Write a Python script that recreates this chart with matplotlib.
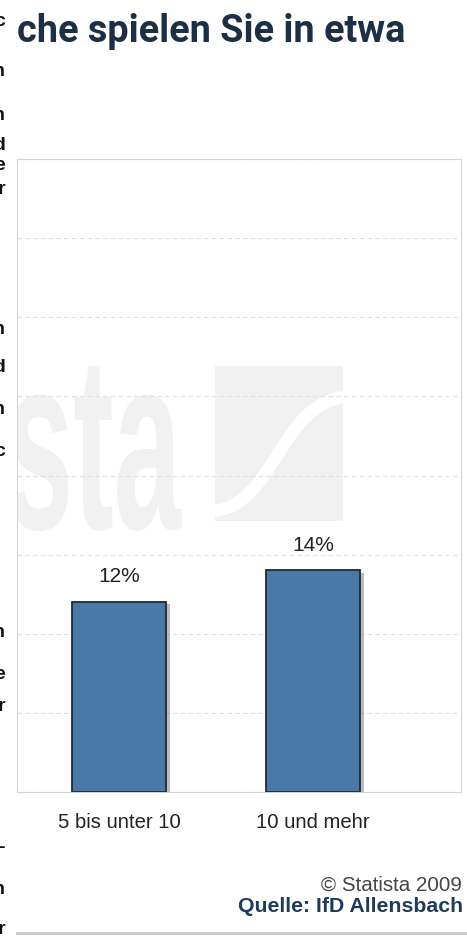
import matplotlib
matplotlib.use("Agg")
import matplotlib.pyplot as plt
import matplotlib.patheffects as pe
from matplotlib import font_manager
from matplotlib.font_manager import FontProperties
from matplotlib.textpath import TextPath
from matplotlib.patches import PathPatch, Rectangle
from matplotlib.path import Path
from matplotlib.lines import Line2D
from matplotlib.transforms import Affine2D
import numpy as np

# data
categories = ["5 bis unter 10", "10 und mehr"]
shares = [12, 14]
bar_labels = ["12%", "14%"]
title = "che spielen Sie in etwa"
copyright_note = "\u00a9 Statista 2009"
source_note = "Quelle: IfD Allensbach"
# cut-off letters of the neighbouring text at the left edge
edge_chars = ["c", "n", "n", "d", "e", "r", "n", "d", "n", "c", "n", "e", "r", "-", "n", "r"]
edge_rows = [22, 72, 115, 145, 165, 190, 330, 368, 410, 452, 633, 675, 707, 848, 890, 930]


def pick(*names):
    avail = {f.name for f in font_manager.fontManager.ttflist}
    for n in names:
        if n in avail:
            return n
    return "DejaVu Sans"


narrow = pick("Liberation Sans Narrow", "Liberation Sans")
head = pick("Roboto", "Liberation Sans")

W, H = 467, 937
fig = plt.figure(figsize=(W / 100, H / 100), dpi=100)
fig.patch.set_facecolor("white")


def fx(px):
    return px / W


def fy(py):
    return 1 - py / H


def fit(txt, width_px):
    # scale the font so the text covers the measured width
    r = fig.canvas.get_renderer()
    w = txt.get_window_extent(renderer=r).width
    txt.set_fontsize(txt.get_fontsize() * width_px / w)


ax = fig.add_axes([fx(17), fy(793), fx(461) - fx(17), fy(160) - fy(793)])
ax.set_facecolor("none")

x = np.arange(len(categories))
bars = ax.bar(x, shares, width=0.485, color="#4a79a7", edgecolor="#1d2b3a",
              linewidth=1.3, zorder=3)
for b in bars:
    b.set_path_effects([pe.SimplePatchShadow(offset=(3, -1.5), shadow_rgbFace="#555555",
                                             alpha=0.4), pe.Normal()])
ax.set_xlim(-0.526, 1.763)
ax.set_ylim(0, 40)
ax.set_yticks(np.arange(0, 41, 5))
ax.yaxis.grid(True, color="#e0e0e0", linestyle=(0, (4, 3)), linewidth=0.8, zorder=0)
ax.tick_params(axis="y", left=False, labelleft=False)
ax.set_xticks(x, categories)
ax.tick_params(axis="x", bottom=False, pad=11, labelsize=15, labelcolor="#222222")
for lab in ax.get_xticklabels():
    lab.set_fontfamily(narrow)
for s in ax.spines.values():
    s.set_color("#d4d4d4")
fit(ax.get_xticklabels()[0], 123)
for lab in ax.get_xticklabels()[1:]:
    lab.set_fontsize(ax.get_xticklabels()[0].get_fontsize())

for xi, v, t in zip(x, shares, bar_labels):
    ax.annotate(t, (xi, v), xytext=(0, 12), textcoords="offset points", ha="center",
                va="bottom", fontsize=15, family=narrow, color="#222222")

# watermark: "sta" plus logo square
tp = TextPath((0, 0), "sta", size=100, prop=FontProperties(family="Liberation Sans", weight="bold"))
ext = tp.get_extents()
tr = (Affine2D().translate(-ext.x0, -ext.y0)
      .scale((fx(182) - fx(10)) / ext.width, (fy(367) - fy(532)) / ext.height)
      .translate(fx(10), fy(532)) + fig.transFigure)
wm = PathPatch(tp, transform=tr, facecolor="#f1f1f1", edgecolor="none", zorder=-2)
fig.add_artist(wm)
wm.set_clip_path(ax.patch)

fig.add_artist(Rectangle((fx(215), fy(522)), fx(343) - fx(215), fy(367) - fy(522),
                         transform=fig.transFigure, facecolor="#f1f1f1",
                         edgecolor="none", zorder=-2))
pts = [(214, 512), (275, 505), (280, 405), (345, 398)]
curve = Path([(fx(a), fy(b)) for a, b in pts],
             [Path.MOVETO, Path.CURVE4, Path.CURVE4, Path.CURVE4])
fig.add_artist(PathPatch(curve, transform=fig.transFigure, facecolor="none",
                         edgecolor="white", linewidth=9, zorder=-1.5))

# title, cut at the left like the reference
t = fig.text(fx(17), fy(42), title, ha="left", va="baseline", fontsize=24,
             family=head, weight="bold", color="#1b2f45")
fit(t, 389)

# footer
c = fig.text(fx(462), fy(885), copyright_note, ha="right", va="center", fontsize=15,
             family=narrow, color="#444444")
fit(c, 141)
q = fig.text(fx(463), fy(907), source_note, ha="right", va="center", fontsize=15,
             family=narrow, weight="bold", color="#1f3b5c")
fit(q, 226)
fig.add_artist(Line2D([fx(17), fx(467)], [fy(934), fy(934)], color="#c8c8c8",
                      linewidth=2, transform=fig.transFigure))

# letters of the neighbouring text, mostly outside the left edge
for ch, row in zip(edge_chars, edge_rows):
    fig.text(fx(5), fy(row), ch, ha="right", va="center", fontsize=14,
             weight="bold", family="Liberation Sans", color="#111111")

fig.savefig("out.png", dpi=100, facecolor="white")
